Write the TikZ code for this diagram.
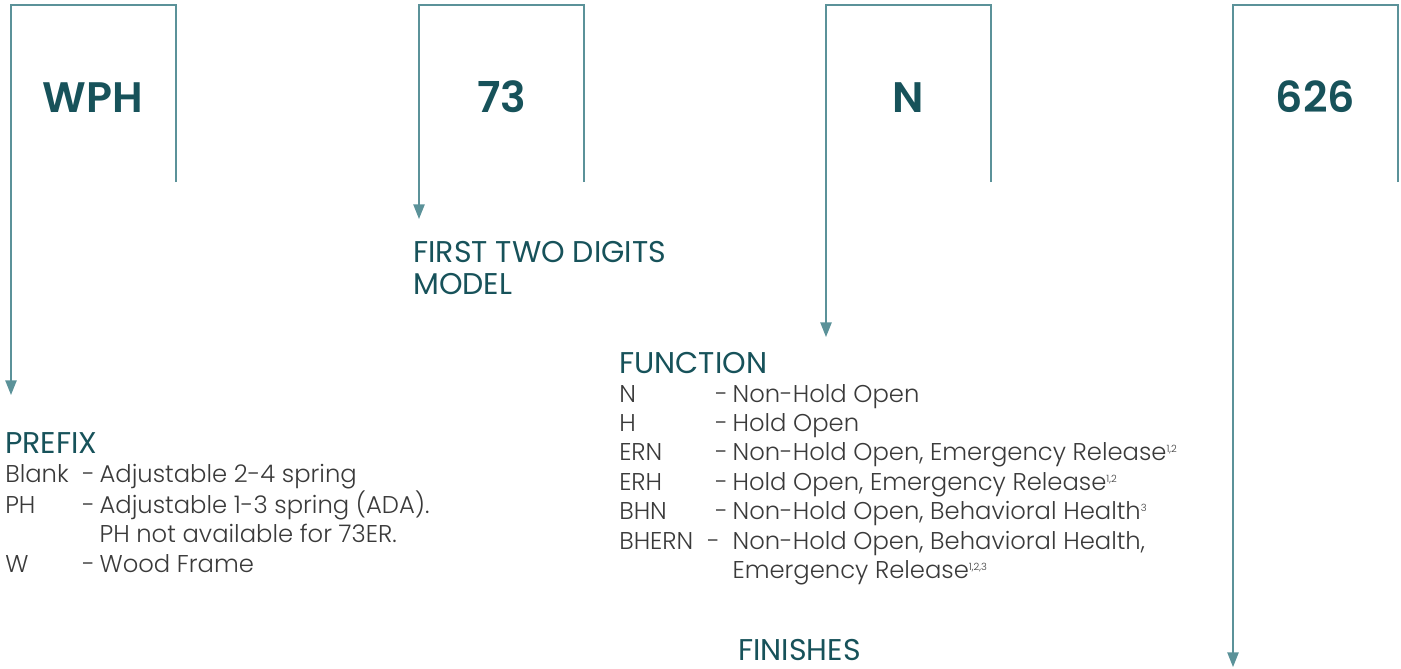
\documentclass[tikz,border=0pt]{standalone}
\usepackage{fontspec}
\setmainfont{Poppins}[UprightFont=* Light, BoldFont=* SemiBold]
\newfontfamily\headfont{Poppins}
\usetikzlibrary{arrows.meta}
\definecolor{codeteal}{HTML}{17525A}
\definecolor{lineteal}{HTML}{5B9299}
\definecolor{listgray}{HTML}{3A3A3A}
\newcommand{\keyrow}[4][13pt]{\makebox[#2][l]{#3}\makebox[#1][l]{-}#4}
\newcommand{\fnote}[1]{\textsuperscript{\fontsize{7.5}{7.5}\selectfont #1}}
\begin{document}
\begin{tikzpicture}[x=0.75pt, y=-0.75pt,
	every node/.style={inner sep=0pt, anchor=base west},
	code/.style={anchor=base, text=codeteal, font=\fontsize{32}{34}\selectfont\bfseries},
	head/.style={text=codeteal, font=\headfont\fontsize{22.5}{24}\selectfont},
	item/.style={text=listgray, font=\fontsize{18.2}{22.1}\selectfont},
	bracket/.style={draw=lineteal, line width=1.1pt},
	pointer/.style={bracket, -{Triangle[length=11pt,width=8.5pt]}}]
	\useasboundingbox (0,0) rectangle (1401,668);
	
	\node[code] (wph) at (93,112) {WPH};
	\node[code] (model) at (501.5,112) {73};
	\node[code] (func) at (908.5,112) {N};
	\node[code] (finish) at (1315.5,112) {626};
	
	\coordinate (wphtip) at (11,395);
	\coordinate (modeltip) at (419,219);
	\coordinate (functip) at (826,337);
	\coordinate (finishtip) at (1233,667);
	
	\foreach \l/\r/\tip in {11/176/wphtip,419/584/modeltip,826/991/functip,1233/1398/finishtip}
	\draw[pointer] (\r,182) -- (\r,5) -- (\l,5) -- (\tip);
	
	\node[head] (modelhead) at (413,262) {\begin{tabular}[t]{@{}l@{}}FIRST TWO DIGITS\\MODEL\end{tabular}};
	
	\node[head] (prefixhead) at (5,453) {PREFIX};
	\node[item] (prefixlist) at (5,482) {\begin{tabular}[t]{@{}l@{}}
		\keyrow{57.75pt}{Blank}{Adjustable 2-4 spring}\\
		\keyrow{57.75pt}{PH}{Adjustable 1-3 spring (ADA).}\\
		\hspace{70.75pt}PH not available for 73ER.\\
		\keyrow{57.75pt}{W}{Wood Frame}
	\end{tabular}};
	
	\node[head] (funchead) at (619,373) {FUNCTION};
	\node[item] (funclist) at (619,402) {\begin{tabular}[t]{@{}l@{}}
		\keyrow{72pt}{N}{Non-Hold Open}\\
		\keyrow{72pt}{H}{Hold Open}\\
		\keyrow{72pt}{ERN}{Non-Hold Open, Emergency Release\fnote{1,2}}\\
		\keyrow{72pt}{ERH}{Hold Open, Emergency Release\fnote{1,2}}\\
		\keyrow{72pt}{BHN}{Non-Hold Open, Behavioral Health\fnote{3}}\\
		\keyrow[19pt]{66pt}{BHERN}{Non-Hold Open, Behavioral Health,}\\
		\hspace{85pt}Emergency Release\fnote{1,2,3}
	\end{tabular}};
	
	\node[head] (finishhead) at (738,660) {FINISHES};
\end{tikzpicture}
\end{document}
